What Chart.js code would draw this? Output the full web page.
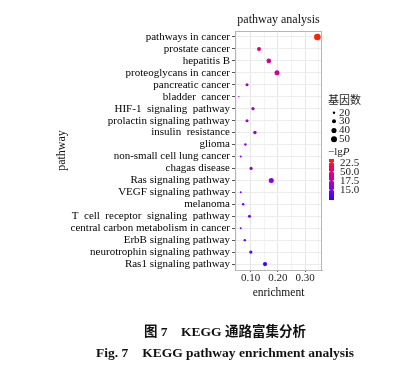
<!DOCTYPE html>
<html>
<head>
<meta charset="utf-8">
<script src="https://cdn.jsdelivr.net/npm/chart.js@4"></script>
<style>
  body { margin: 0; background: #fff; }
  #wrap { position: relative; width: 411px; height: 371px; }
  .cap { position: absolute; left: 0; width: 450px; text-align: center; font-weight: bold;
         font-size: 13.5px; line-height: 16px; color: #111; white-space: pre; }
  #cap1 { top: 324px; font-family: "Liberation Serif", "Noto Sans CJK SC", serif; }
  #cap2 { top: 345px; font-family: "Liberation Serif", serif; }
</style>
</head>
<body>
<div id="wrap">
  <canvas id="myChart" width="411" height="371"></canvas>
  <div class="cap" id="cap1">图 7　KEGG 通路富集分析</div>
  <div class="cap" id="cap2">Fig. 7　KEGG pathway enrichment analysis</div>
</div>
<script>
const pathways = ["pathways in cancer", "prostate cancer", "hepatitis B", "proteoglycans in cancer",
  "pancreatic cancer", "bladder  cancer", "HIF-1  signaling  pathway", "prolactin signaling pathway",
  "insulin  resistance", "glioma", "non-small cell lung cancer", "chagas disease",
  "Ras signaling pathway", "VEGF signaling pathway", "melanoma", "T  cell  receptor  signaling  pathway",
  "central carbon metabolism in cancer", "ErbB signaling pathway", "neurotrophin signaling pathway",
  "Ras1 signaling pathway"];
const enrichment = [0.345, 0.131, 0.167, 0.197, 0.087, 0.057, 0.109, 0.087, 0.116, 0.081,
  0.064, 0.102, 0.176, 0.064, 0.073, 0.096, 0.064, 0.079, 0.101, 0.153];
const geneCount = [58, 30, 36, 39, 23, 16, 25, 23, 26, 20, 18, 24, 39, 18, 20, 23, 18, 20, 25, 32];
const negLogP = [23.4, 20.0, 19.2, 19.0, 17.0, 17.2, 17.0, 16.8, 16.5, 16.2, 15.8, 15.6, 15.5,
  15.4, 15.2, 15.0, 14.9, 14.7, 13.9, 12.8];
const xTicks = [0.05, 0.10, 0.15, 0.20, 0.25, 0.30, 0.35];
const xLabelled = [0.10, 0.20, 0.30];
const sizeLegend = [20, 30, 40, 50];
const colorTickValues = [22.5, 20.0, 17.5, 15.0];
const colorTickLabels = ["22.5", "50.0", "17.5", "15.0"];

const pMin = 12.25, pMax = 23.5;
const stops = [[0, [51, 0, 255]], [0.3, [136, 0, 232]], [0.55, [200, 0, 165]],
  [0.75, [235, 0, 110]], [1, [255, 36, 0]]];
const serif = "'Liberation Serif', 'Times New Roman', serif";

function pColor(v) {
  let t = Math.min(1, Math.max(0, (v - pMin) / (pMax - pMin)));
  for (let i = 1; i < stops.length; i++) {
    if (t <= stops[i][0]) {
      const a = stops[i - 1], b = stops[i];
      const f = (t - a[0]) / (b[0] - a[0]);
      const c = a[1].map((x, k) => Math.round(x + (b[1][k] - x) * f));
      return `rgb(${c[0]},${c[1]},${c[2]})`;
    }
  }
  return "rgb(255,36,0)";
}

function radius(count) {
  return Math.max(0.7, 0.5 * Math.sqrt(Math.max(0, count - 14)));
}

const points = pathways.map((p, i) => ({ x: enrichment[i], y: p }));

// frame + legends on the right
const sidePlugin = {
  id: "side",
  afterDraw(chart) {
    const ctx = chart.ctx;
    const a = chart.chartArea;
    ctx.save();
    ctx.strokeStyle = "#b5b5b5";
    ctx.lineWidth = 1;
    ctx.strokeRect(a.left + 0.5, a.top + 0.5, a.right - a.left - 1, a.bottom - a.top);

    const lx = a.right + 6;
    ctx.fillStyle = "#222";
    ctx.textBaseline = "middle";
    ctx.font = "11px 'Noto Sans CJK SC', sans-serif";
    ctx.fillText("基因数", lx, 100);
    ctx.font = "11px " + serif;
    const sizeY = [112.7, 121.3, 130.5, 139.3];
    sizeLegend.forEach((s, i) => {
      ctx.fillStyle = "#000";
      ctx.beginPath();
      ctx.arc(lx + 6, sizeY[i], radius(s), 0, Math.PI * 2);
      ctx.fill();
      ctx.fillStyle = "#222";
      ctx.fillText(String(s), lx + 11, sizeY[i]);
    });

    ctx.font = "11px " + serif;
    ctx.fillText("\u2212lg", lx, 151.7);
    const w = ctx.measureText("\u2212lg").width;
    ctx.font = "italic 11px " + serif;
    ctx.fillText("P", lx + w, 151.7);

    const barTop = 159, barBot = 200, bx = lx + 1, bw = 5;
    const g = ctx.createLinearGradient(0, barBot, 0, barTop);
    for (let k = 0; k <= 20; k++) {
      g.addColorStop(k / 20, pColor(pMin + (pMax - pMin) * k / 20));
    }
    ctx.fillStyle = g;
    ctx.fillRect(bx, barTop, bw, barBot - barTop);
    ctx.font = "11px " + serif;
    colorTickValues.forEach((v, i) => {
      const y = barBot - (v - pMin) / (pMax - pMin) * (barBot - barTop);
      ctx.fillStyle = "#fff";
      ctx.fillRect(bx, y - 0.5, 1.2, 1);
      ctx.fillRect(bx + bw - 1.2, y - 0.5, 1.2, 1);
      ctx.fillStyle = "#222";
      ctx.fillText(colorTickLabels[i], lx + 12, y);
    });
    ctx.restore();
  }
};

const config = {
  type: "scatter",
  data: {
    datasets: [{
      data: points,
      pointRadius: pathways.map((p, i) => radius(geneCount[i])),
      pointHoverRadius: pathways.map((p, i) => radius(geneCount[i])),
      backgroundColor: pathways.map((p, i) => pColor(negLogP[i])),
      borderWidth: 0
    }]
  },
  options: {
    responsive: false,
    animation: false,
    layout: { padding: { left: 50, right: 89, top: 0, bottom: 70 } },
    plugins: {
      legend: { display: false },
      tooltip: { enabled: false },
      title: {
        display: true,
        text: "pathway analysis",
        fullSize: false,
        color: "#111",
        font: { family: serif, size: 12, weight: "normal" },
        padding: { top: 13, bottom: 3.6 }
      }
    },
    scales: {
      x: {
        type: "linear",
        min: 0.043,
        max: 0.362,
        afterBuildTicks: s => { s.ticks = xTicks.map(v => ({ value: v })); },
        afterFit: s => { s.height = 31; },
        border: { color: "#b5b5b5" },
        grid: {
          color: c => (xLabelled.some(v => Math.abs(v - c.tick.value) < 1e-6) ? "#e6e6e6" : "#f3f3f3"),
          tickColor: c => (xLabelled.some(v => Math.abs(v - c.tick.value) < 1e-6) ? "#555" : "rgba(0,0,0,0)"),
          tickLength: 2
        },
        ticks: {
          autoSkip: false,
          maxRotation: 0,
          padding: 0,
          color: "#222",
          font: { family: serif, size: 11 },
          callback: v => (xLabelled.some(t => Math.abs(t - v) < 1e-6) ? v.toFixed(2) : "")
        },
        title: {
          display: true,
          text: "enrichment",
          color: "#111",
          font: { family: serif, size: 11.5 },
          padding: { top: 0, bottom: 1.4 }
        }
      },
      y: {
        type: "category",
        labels: pathways,
        offset: true,
        afterFit: s => { s.width = 185; },
        border: { color: "#b5b5b5" },
        grid: { color: "#ececec", tickColor: "#555", tickLength: 3 },
        ticks: {
          autoSkip: false,
          padding: 2,
          color: "#000",
          font: { family: serif, size: 11 }
        },
        title: {
          display: true,
          text: "pathway",
          color: "#111",
          font: { family: serif, size: 12 },
          padding: { top: 5, bottom: 0 }
        }
      }
    }
  },
  plugins: [sidePlugin]
};

const myChart = new Chart(document.getElementById("myChart"), config);
</script>
</body>
</html>
